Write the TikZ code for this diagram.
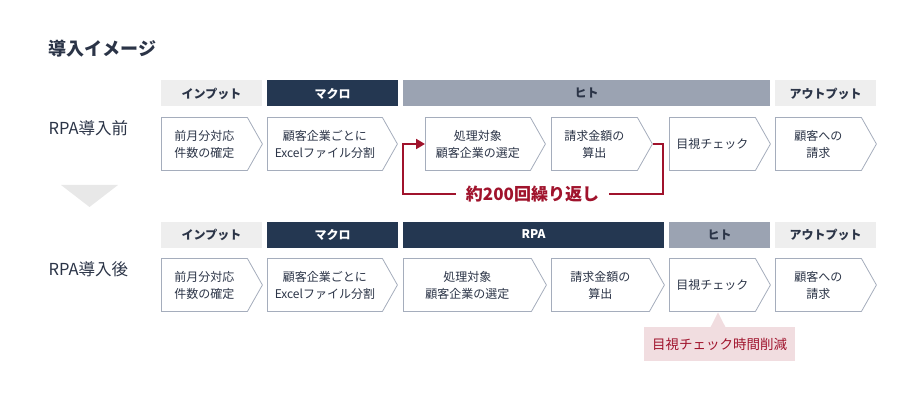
\documentclass[tikz,border=0pt]{standalone}
\usepackage{fontspec}
\setmainfont{Noto Sans CJK JP}
\usetikzlibrary{shapes.symbols,arrows.meta,positioning}

\definecolor{navy}{HTML}{243751}
\definecolor{hitogray}{HTML}{9BA3B2}
\definecolor{inputgray}{HTML}{EEEEEE}
\definecolor{edgegray}{HTML}{A5ADBC}
\definecolor{inkdark}{HTML}{2B3447}
\definecolor{loopred}{HTML}{A0132C}
\definecolor{notepink}{HTML}{F1DDE0}
\definecolor{arrowgray}{HTML}{E8E8E8}

\begin{document}
\begin{tikzpicture}[x=1pt,y=-1pt,
  head/.style={rectangle,inner sep=0pt,minimum height=26pt,
               font=\fontsize{12}{14}\selectfont\bfseries},
  inhead/.style={head,fill=inputgray,text=inkdark},
  machead/.style={head,fill=navy,text=white},
  hitohead/.style={head,fill=hitogray,text=inkdark},
  stepbox/.style={signal,signal to=east,signal from=nowhere,
               signal pointer angle=121,draw=edgegray,fill=white,
               line width=0.8pt,minimum height=53pt,inner sep=0pt,
               anchor=west,align=center,text=inkdark,
               font=\fontsize{12}{17}\selectfont},
  rowlabel/.style={anchor=west,text=inkdark,font=\fontsize{16.5}{20}\selectfont},
  loopline/.style={loopred,line width=2pt}]

\useasboundingbox (0,0) rectangle (916,401);

%% ---------- title ----------
\node[anchor=west,text=inkdark,font=\fontsize{18}{20}\selectfont\bfseries]
  (title) at (45,49){導入イメージ};

%% ---------- before RPA ----------
\node[rowlabel](before) at (45,128){RPA導入前};

% Headers
\node[inhead,minimum width=101pt](H1in) at (211.5,93.5){インプット};
\node[machead,minimum width=131pt](H1mac) at (332.5,93.5){マクロ};
\node[hitohead,minimum width=367pt](H1hito) at (586.5,93.5){ヒト};
\node[inhead,minimum width=101pt](H1out) at (825.5,93.5){アウトプット};

% Steps (placed by left edge)
\node[stepbox,minimum width=101pt](b1) at (161,144){前月分対応\\件数の確定};
\node[stepbox,minimum width=130pt](b2) at (267,144){顧客企業ごとに\\Excelファイル分割};
\node[stepbox,minimum width=120pt](b3) at (425,144){処理対象\\顧客企業の選定};
\node[stepbox,minimum width=101pt](b4) at (551,144){請求金額の\\算出};
\node[stepbox,minimum width=101pt](b5) at (669,144){目視チェック};
\node[stepbox,minimum width=101pt](b6) at (775,144){顧客への\\請求};

% Repeat loop
\node[fill=white,inner xsep=10pt,inner ysep=2pt,text=loopred,
      font=\fontsize{17}{19}\selectfont\bfseries](rep) at (532.5,194){約200回繰り返し};
\coordinate (loopR) at (663,144);
\coordinate (loopL) at (403,144);
\draw[loopline] (b4.east) -- (loopR) |- (rep.east);
\draw[loopline,-{Triangle[length=9pt,width=10pt]}] (rep.west) -| (loopL) -- (b3.west);

% Down arrow
\fill[arrowgray] (61,185) -- (118,185) -- (89.5,207) -- cycle;

%% ---------- after RPA ----------
\node[rowlabel](after) at (45,269){RPA導入後};

% Headers
\node[inhead,minimum width=101pt](H2in) at (211.5,234.5){インプット};
\node[machead,minimum width=131pt](H2mac) at (332.5,234.5){マクロ};
\node[machead,minimum width=261pt](H2rpa) at (533.5,234.5){RPA};
\node[hitohead,minimum width=101pt](H2hito) at (719.5,234.5){ヒト};
\node[inhead,minimum width=101pt](H2out) at (825.5,234.5){アウトプット};

% Steps (placed by left edge)
\node[stepbox,minimum width=101pt](c1) at (161,285){前月分対応\\件数の確定};
\node[stepbox,minimum width=130pt](c2) at (267,285){顧客企業ごとに\\Excelファイル分割};
\node[stepbox,minimum width=143pt](c3) at (403,285){処理対象\\顧客企業の選定};
\node[stepbox,minimum width=113pt](c4) at (551,285){請求金額の\\算出};
\node[stepbox,minimum width=101pt](c5) at (669,285){目視チェック};
\node[stepbox,minimum width=101pt](c6) at (775,285){顧客への\\請求};

% Callout
\node[fill=notepink,inner sep=0pt,minimum width=151pt,minimum height=34pt,
      text=loopred,font=\fontsize{13.5}{15}\selectfont](note) at (719.5,344){目視チェック時間削減};
\fill[notepink] (710.5,327.2) -- (718,312.5) -- (725.5,327.2) -- cycle;

\end{tikzpicture}
\end{document}
